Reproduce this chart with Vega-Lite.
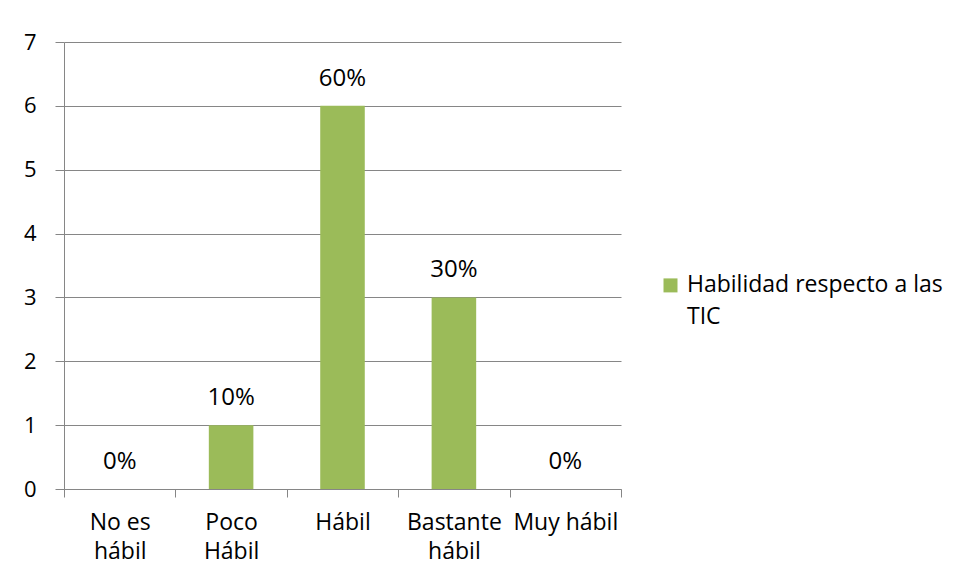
{
  "$schema": "https://vega.github.io/schema/vega-lite/v6.json",
  "width": 557,
  "height": 447,
  "autosize": {"type": "none"},
  "padding": {"left": 64, "top": 42, "right": 334, "bottom": 92},
  "background": "white",
  "data": {"values": [
    {"categoria": "No es hábil", "valor": 0, "etiqueta": "0%", "serie": "Habilidad respecto a las TIC"},
    {"categoria": "Poco Hábil", "valor": 1, "etiqueta": "10%", "serie": "Habilidad respecto a las TIC"},
    {"categoria": "Hábil", "valor": 6, "etiqueta": "60%", "serie": "Habilidad respecto a las TIC"},
    {"categoria": "Bastante hábil", "valor": 3, "etiqueta": "30%", "serie": "Habilidad respecto a las TIC"},
    {"categoria": "Muy hábil", "valor": 0, "etiqueta": "0%", "serie": "Habilidad respecto a las TIC"}
  ]},
  "config": {
    "font": "Open Sans",
    "view": {"stroke": null},
    "style": {"guide-label": {"lineHeight": 32}},
    "axis": {"domainColor": "#868686", "tickColor": "#868686", "gridColor": "#868686", "labelColor": "#000000", "labelFont": "Open Sans", "title": null}
  },
  "encoding": {
    "x": {
      "field": "categoria", "type": "nominal", "sort": null,
      "scale": {"paddingInner": 0, "paddingOuter": 0},
      "axis": {
        "labelAngle": 0, "tickSize": 8, "tickBand": "extent", "labelPadding": 14,
        "labelFontSize": 23, "labelLineHeight": 29, "labelBaseline": "top",
        "labelExpr": "datum.value == 'No es hábil' ? ['No es', 'hábil'] : datum.value == 'Poco Hábil' ? ['Poco', 'Hábil'] : datum.value == 'Bastante hábil' ? ['Bastante', 'hábil'] : datum.value"
      }
    },
    "y": {
      "field": "valor", "type": "quantitative",
      "scale": {"domain": [0, 7]},
      "axis": {"values": [0, 1, 2, 3, 4, 5, 6, 7], "tickSize": 9, "labelPadding": 19, "labelFontSize": 22, "grid": true, "domain": true}
    }
  },
  "layer": [
    {
      "mark": {"type": "bar", "color": "#9BBB59", "width": {"band": 0.4}},
      "encoding": {
        "color": {
          "field": "serie", "type": "nominal",
          "scale": {"range": ["#9BBB59"]},
          "legend": {
            "title": null, "orient": "none", "legendX": 595, "legendY": 220,
            "symbolType": "M-1,0.7H1V2.7H-1Z", "symbolSize": 196, "symbolStrokeWidth": 0,
            "labelFontSize": 23, "labelFont": "Open Sans", "labelColor": "#000000",
            "labelLimit": 400, "labelBaseline": "top", "labelOffset": 5,
            "labelExpr": "['Habilidad respecto a las', 'TIC']"
          }
        }
      }
    },
    {
      "mark": {"type": "text", "fontSize": 24, "font": "Open Sans", "color": "#000000", "baseline": "middle", "dy": -27},
      "encoding": {"text": {"field": "etiqueta"}}
    }
  ]
}
